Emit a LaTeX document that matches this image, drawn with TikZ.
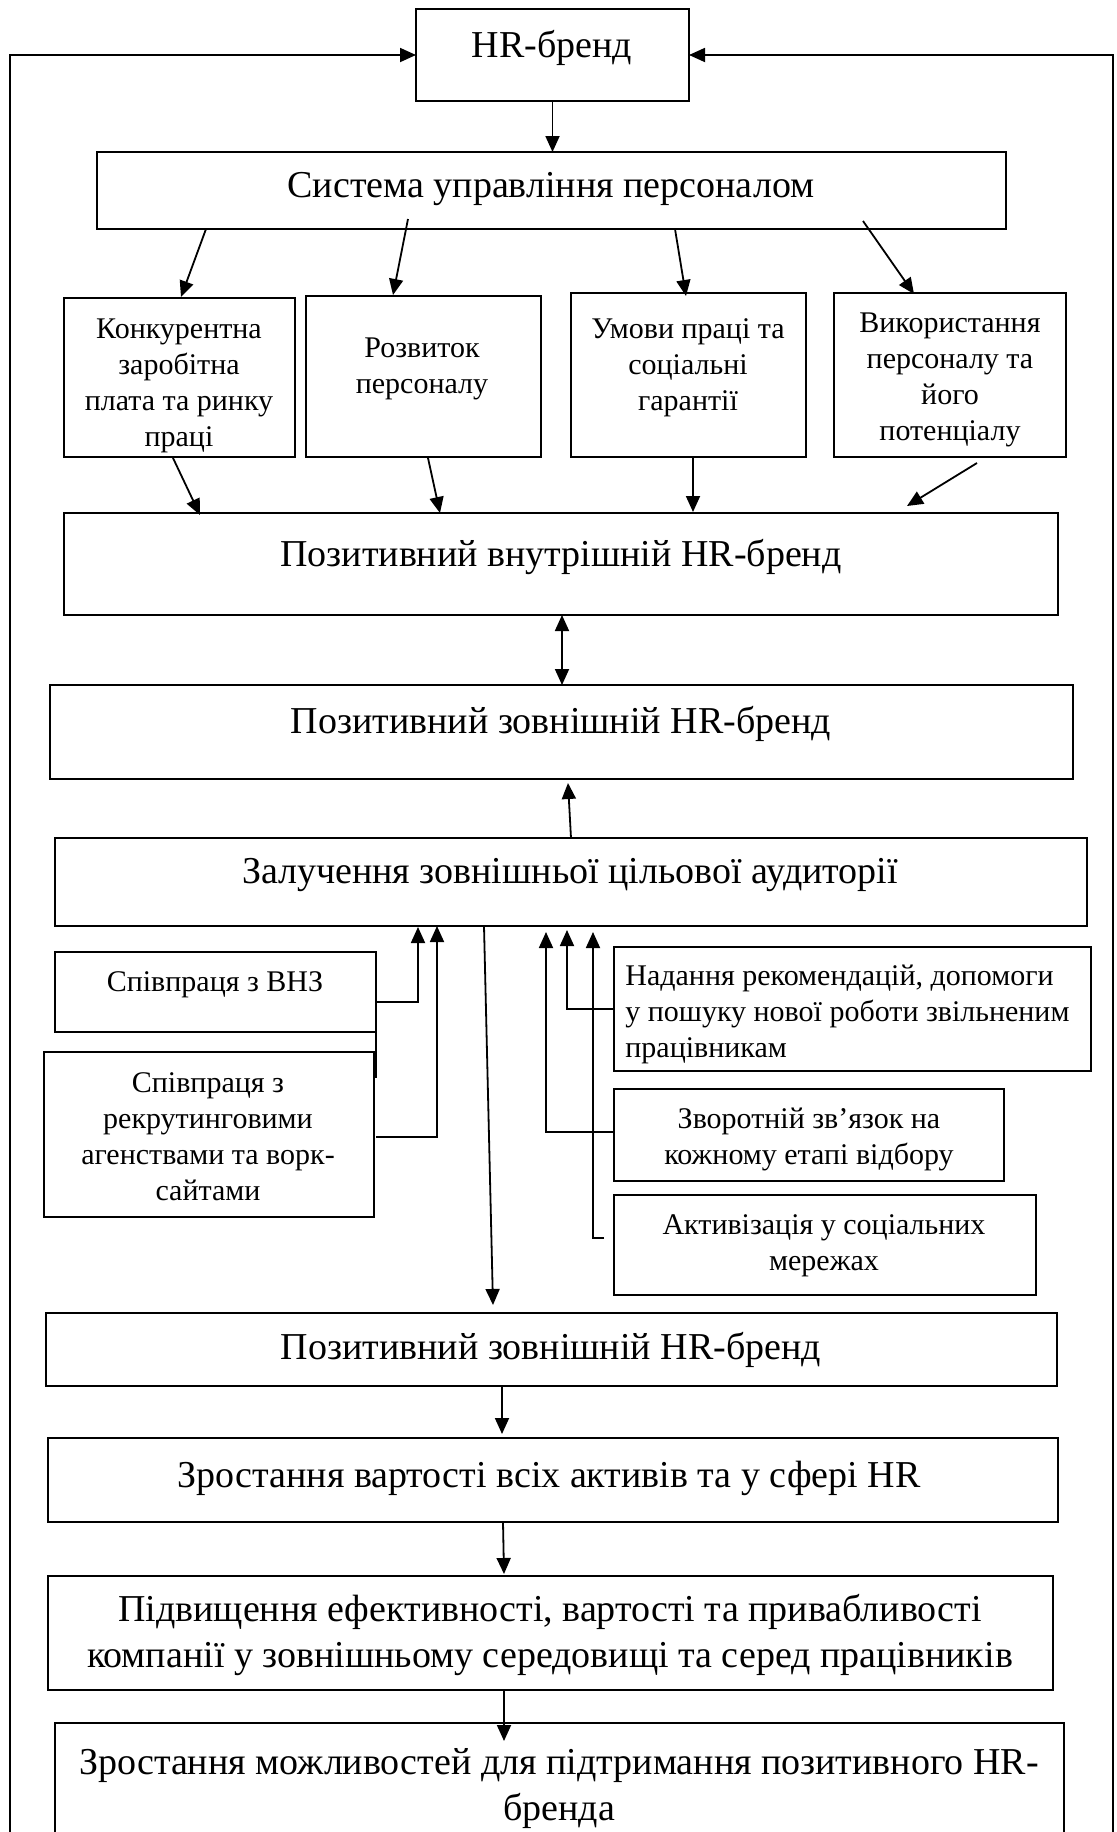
\documentclass[tikz,border=0pt]{standalone}
\usepackage{fontspec}
\setmainfont{Liberation Serif}
\usetikzlibrary{arrows.meta,calc,fit}

\begin{document}
\begin{tikzpicture}[x=0.5pt,y=-0.5pt,
  box/.style={draw, line width=1.15pt, inner sep=0pt, outer sep=0pt},
  big/.style={inner sep=0pt, align=center, font=\fontsize{19pt}{23pt}\selectfont},
  small/.style={inner sep=0pt, align=center, font=\fontsize{15pt}{18pt}\selectfont},
  arr/.style={line width=0.9pt, -{Triangle[length=8pt,width=7pt]}},
  dblarr/.style={line width=0.9pt, {Triangle[length=8pt,width=7pt]}-{Triangle[length=8pt,width=7pt]}},
  link/.style={line width=1.15pt}
]
\useasboundingbox (0,0) rectangle (1116,1832);

% top of the scheme
\node[box, fit={(416,9) (689,101)}] (hr) {};
\node[big] (hr-t) at (552,48) {HR-бренд};

\node[box, fit={(97,152) (1006,229)}] (sys) {};
\node[big] (sys-t) at (551,189) {Система управління персоналом};

\draw[arr] (hr.south) -- (sys.north -| hr.south);

% four components of personnel management
\node[box, fit={(64,298) (295,457)}] (b1) {};
\node[small] (b1-t) at (179,386) {Конкурентна\\заробітна\\плата та ринку\\праці};
\node[box, fit={(306,296) (541,457)}] (b2) {};
\node[small] (b2-t) at (422,369) {Розвиток\\персоналу};
\node[box, fit={(571,293) (806,457)}] (b3) {};
\node[small] (b3-t) at (688,368) {Умови праці та\\соціальні\\гарантії};
\node[box, fit={(834,293) (1066,457)}] (b4) {};
\node[small] (b4-t) at (950,380) {Використання\\персоналу та\\його\\потенціалу};

\draw[arr] ($(sys.south west)+(109,0)$) -- ($(b1.north west)+(117,-1)$);
\draw[arr] ($(sys.south west)+(311,-10)$) -- ($(b2.north west)+(87,-1)$);
\draw[arr] ($(sys.south west)+(578,0)$) -- ($(b3.north west)+(115,3)$);
\draw[arr] ($(sys.south west)+(766,-8)$) -- ($(b4.north west)+(80,1)$);

% internal brand
\node[box, fit={(64,513) (1058,615)}] (int) {};
\node[big] (int-t) at (561,557) {Позитивний внутрішній HR-бренд};

\draw[arr] ($(b1.south west)+(109,1)$) -- ($(int.north west)+(136,2)$);
\draw[arr] ($(b2.south west)+(122,1)$) -- ($(int.north west)+(376,0)$);
\draw[arr] ($(b3.south west)+(122,1)$) -- ($(int.north west)+(629,-1)$);
\draw[arr] ($(b4.south west)+(143,6)$) -- ($(int.north west)+(843,-7)$);

% external brand
\node[box, fit={(50,685) (1073,779)}] (ext1) {};
\node[big] (ext1-t) at (561,724) {Позитивний зовнішній HR-бренд};

\draw[dblarr] ($(int.south west)+(498,0)$) -- ($(ext1.north west)+(512,0)$);

% target audience
\node[box, fit={(55,838) (1087,926)}] (zal) {};
\node[big] (zal-t) at (570,875) {Залучення зовнішньої цільової аудиторії};

\draw[arr] ($(zal.north west)+(516,0)$) -- ($(ext1.south west)+(518,4)$);

% left-hand channels
\node[box, fit={(55,952) (376,1032)}] (vnz) {};
\node[small] (vnz-t) at (215,985) {Співпраця з ВНЗ};
\node[box, fit={(44,1052) (374,1217)}] (rec) {};
\node[small] (rec-t) at (208,1137) {Співпраця з\\рекрутинговими\\агенствами та ворк-\\сайтами};
\draw[link] (vnz.south east) -- ++(0,46);

\draw[arr] ($(vnz.north east)+(0,50)$) -| ($(zal.south west)+(363,1)$);
\draw[arr] ($(rec.north east)+(2,85)$) -| ($(zal.south west)+(382,0)$);

% right-hand channels
\node[box, fit={(614,947) (1091,1071)}] (nad) {};
\node[small, align=left, anchor=west] (nad-t) at (625,1014) {Надання рекомендацій, допомоги\\у пошуку нової роботи звільненим\\працівникам};
\node[box, fit={(614,1089) (1004,1181)}] (zvo) {};
\node[small] (zvo-t) at (809,1139) {Зворотній зв’язок на\\кожному етапі відбору};
\node[box, fit={(614,1195) (1036,1295)}] (akt) {};
\node[small] (akt-t) at (824,1246) {Активізація у соціальних\\мережах};

\draw[arr] ($(nad.north west)+(0,62)$) -| ($(zal.south west)+(512,4)$);
\draw[arr] ($(zvo.north west)+(0,43)$) -| ($(zal.south west)+(491,6)$);
\draw[arr] ($(akt.north west)+(-10,43)$) -| ($(zal.south west)+(538,6)$);

% results chain
\node[box, fit={(46,1313) (1057,1386)}] (ext2) {};
\node[big] (ext2-t) at (551,1350) {Позитивний зовнішній HR-бренд};

\draw[arr] ($(zal.south west)+(429,0)$) -- ($(ext2.north west)+(447,-8)$);

\node[box, fit={(48,1438) (1058,1522)}] (gr1) {};
\node[big] (gr1-t) at (549,1478) {Зростання вартості всіх активів та у сфері HR};

\node[box, fit={(48,1576) (1053,1690)}] (pid) {};
\node[big] (pid-t) at (550,1635) {Підвищення ефективності, вартості та привабливості\\компанії у зовнішньому середовищі та серед працівників};

\node[box, fit={(55,1723) (1064,1850)}] (mozh) {};
\node[big] (mozh-t) at (559,1789) {Зростання можливостей для підтримання позитивного HR-\\бренда};

\draw[arr] ($(ext2.south west)+(456,0)$) -- ($(gr1.north west)+(454,-4)$);
\draw[arr] ($(gr1.south west)+(455,0)$) -- ($(pid.north west)+(456,-2)$);
\draw[arr] ($(pid.south west)+(456,0)$) -- ($(mozh.north west)+(449,18)$);

% feedback loops back to the HR brand
\coordinate (lfoot) at (10,1850);
\coordinate (rfoot) at (1113,1850);
\draw[arr] (lfoot) |- (hr.west);
\draw[arr] (rfoot) |- (hr.east);
\end{tikzpicture}
\end{document}
